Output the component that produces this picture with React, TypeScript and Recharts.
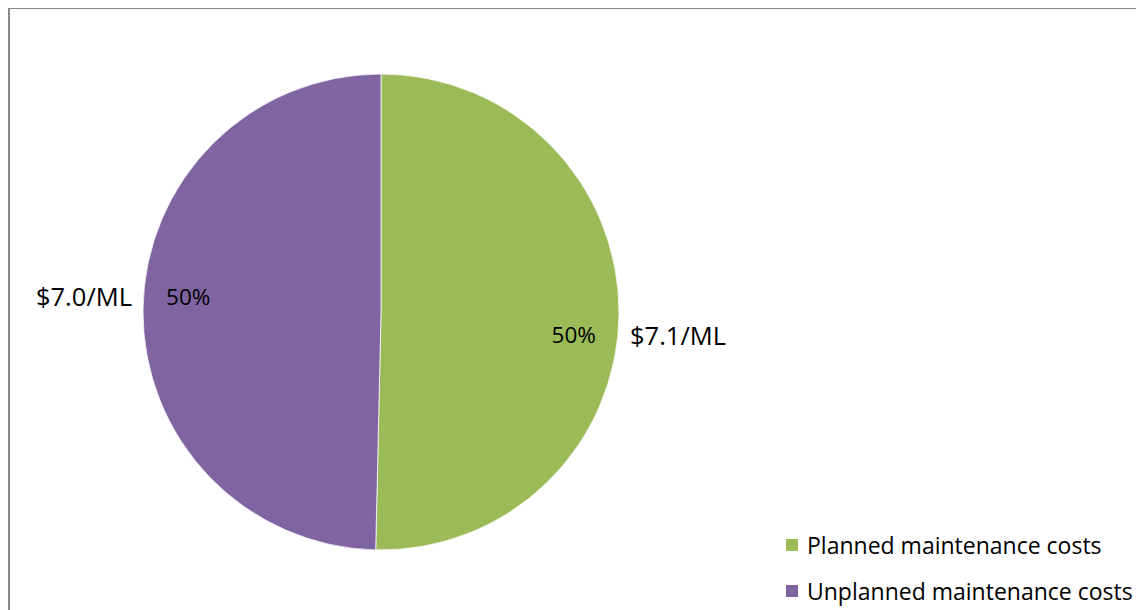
import React from 'react';
import { PieChart, Pie, Cell, Legend } from 'recharts';

// Maintenance cost split ($/ML)
const categories = ['Planned maintenance costs', 'Unplanned maintenance costs'];
const costs = [7.1, 7.0];
const valueLabels = ['$7.1/ML', '$7.0/ML'];
const percentLabels = ['50%', '50%'];

const colors = ['#9BBB59', '#8064A2'];
const labelShift = [20, -13];
const FONT = '"Open Sans", sans-serif';

const data = categories.map((name, i) => ({ name, value: costs[i] }));

const RAD = Math.PI / 180;

const renderLabel = (props: any) => {
  const { cx, cy, midAngle, outerRadius, index } = props;
  const cos = Math.cos(-midAngle * RAD);
  const sin = Math.sin(-midAngle * RAD);
  const shift = labelShift[index] || 0;
  const inR = outerRadius * 0.81;
  const inX = cx + inR * cos;
  const inY = cy + inR * sin + shift;
  const outR = outerRadius + 11;
  const outX = cx + outR * cos;
  const outY = cy + outR * sin + shift;
  const right = cos >= 0;
  return (
    <g>
      <text x={inX} y={inY} textAnchor="middle" dominantBaseline="central" fill="#000" fontSize={22.5} fontFamily={FONT}>
        {percentLabels[index]}
      </text>
      <text x={outX} y={outY} textAnchor={right ? 'start' : 'end'} dominantBaseline="central" fill="#000" fontSize={25.5} fontFamily={FONT}>
        {valueLabels[index]}
      </text>
    </g>
  );
};

const renderLegend = () => (
  <div style={{ fontFamily: FONT, fontSize: 23, color: '#000' }}>
    {categories.map((c, i) => (
      <div key={c} style={{ display: 'flex', alignItems: 'center', height: 46 }}>
        <span style={{ display: 'inline-block', width: 12, height: 12, background: colors[i], marginRight: 9 }} />
        <span>{c}</span>
      </div>
    ))}
  </div>
);

const App: React.FC = () => {
  return (
    <div
      style={{
        position: 'relative',
        width: 1130,
        height: 620,
        marginTop: -1,
        border: '2px solid #888',
        background: '#fff',
      }}
    >
      <PieChart width={1130} height={620} margin={{ top: 0, right: 0, bottom: 0, left: 0 }}>
        <Pie
          data={data}
          dataKey="value"
          nameKey="name"
          cx={371}
          cy={303}
          outerRadius={238}
          startAngle={90}
          endAngle={-270}
          stroke="#fff"
          strokeWidth={0.75}
          label={renderLabel}
          labelLine={false}
          isAnimationActive={false}
        >
          {data.map((d, i) => (
            <Cell key={d.name} fill={colors[i]} />
          ))}
        </Pie>
        <Legend
          content={renderLegend}
          layout="vertical"
          align="right"
          verticalAlign="top"
          wrapperStyle={{ left: 776, top: 513, width: 360 }}
        />
      </PieChart>
    </div>
  );
};

export default App;
